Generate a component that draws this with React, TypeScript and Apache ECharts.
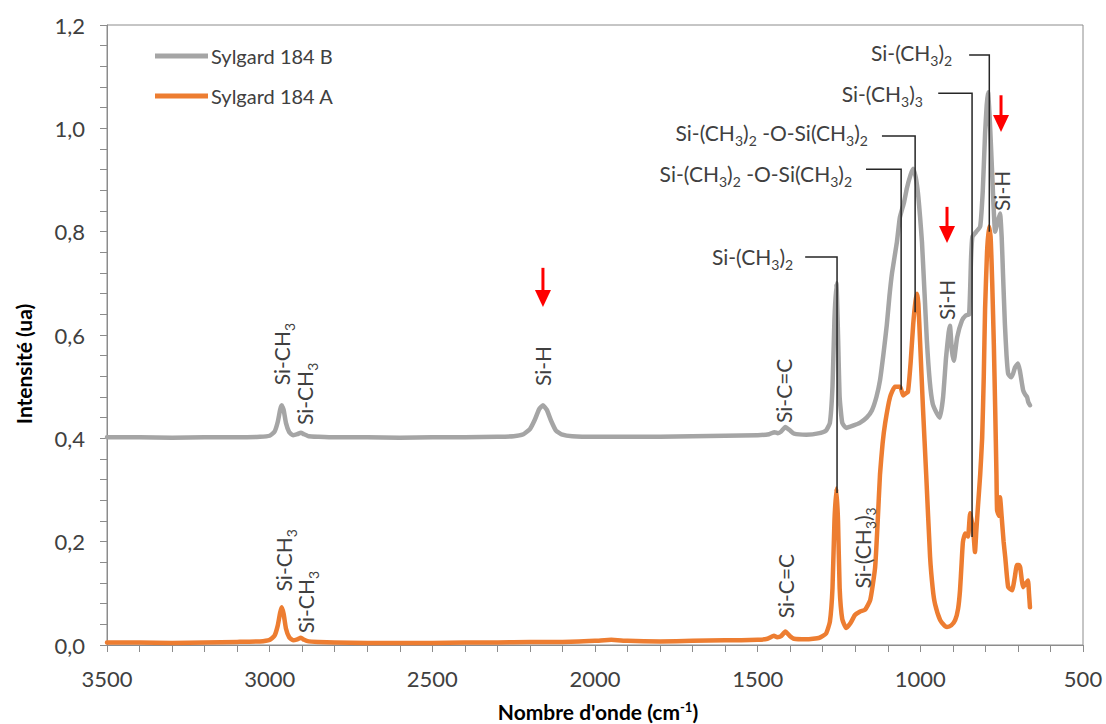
import { useEffect, useRef } from 'react';
import * as echarts from 'echarts';

// Wavenumber (cm-1), intensity (ua)
const sylgardB: [number, number][] = [
  [3500, 0.402], [3400, 0.402], [3300, 0.401], [3200, 0.402], [3100, 0.402], [3030, 0.403], [3000, 0.405],
  [2985, 0.413], [2975, 0.432], [2968, 0.455], [2963, 0.464], [2957, 0.455], [2950, 0.43], [2940, 0.412],
  [2928, 0.406], [2915, 0.408], [2904, 0.411], [2895, 0.408], [2880, 0.404], [2850, 0.403], [2800, 0.402],
  [2700, 0.402], [2600, 0.401], [2500, 0.402], [2400, 0.402], [2300, 0.403], [2250, 0.404], [2220, 0.408],
  [2200, 0.418], [2185, 0.436], [2172, 0.456], [2160, 0.464], [2148, 0.455], [2135, 0.434], [2120, 0.415],
  [2100, 0.407], [2070, 0.404], [2000, 0.403], [1900, 0.403], [1800, 0.403], [1700, 0.404], [1600, 0.405],
  [1500, 0.406], [1465, 0.408], [1448, 0.412], [1438, 0.41], [1428, 0.413], [1415, 0.422], [1402, 0.416],
  [1388, 0.409], [1350, 0.407], [1310, 0.41], [1290, 0.415], [1278, 0.43], [1270, 0.5], [1264, 0.63],
  [1258, 0.7], [1253, 0.6], [1248, 0.48], [1240, 0.43], [1228, 0.42], [1205, 0.425], [1186, 0.43],
  [1165, 0.44], [1149, 0.454], [1135, 0.48], [1124, 0.512], [1113, 0.565], [1103, 0.62], [1095, 0.675],
  [1087, 0.72], [1072, 0.78], [1063, 0.827], [1050, 0.857], [1041, 0.885], [1030, 0.91], [1022, 0.922],
  [1014, 0.905], [1007, 0.873], [1001, 0.83], [995, 0.78], [987, 0.68], [980, 0.59], [971, 0.51],
  [962, 0.467], [949, 0.448], [940, 0.44], [930, 0.48], [921, 0.556], [913, 0.605], [909, 0.618],
  [903, 0.57], [897, 0.55], [887, 0.595], [872, 0.628], [860, 0.638], [850, 0.64], [844, 0.75],
  [840, 0.79], [828, 0.8], [816, 0.81], [808, 0.88], [801, 0.99], [796, 1.045], [792, 1.07], [786, 1.01],
  [780, 0.924], [770, 0.8], [762, 0.82], [755, 0.835], [750, 0.79], [746, 0.72], [740, 0.62], [735, 0.56],
  [730, 0.525], [721, 0.518], [715, 0.525], [709, 0.537], [700, 0.545], [694, 0.531], [684, 0.493],
  [678, 0.485], [672, 0.48], [668, 0.47], [663, 0.464],
];

const sylgardA: [number, number][] = [
  [3500, 0.005], [3400, 0.005], [3300, 0.004], [3200, 0.005], [3100, 0.006], [3030, 0.007], [3000, 0.01],
  [2985, 0.018], [2975, 0.038], [2968, 0.062], [2963, 0.073], [2957, 0.06], [2950, 0.032], [2940, 0.015],
  [2928, 0.009], [2915, 0.011], [2904, 0.014], [2894, 0.01], [2880, 0.007], [2850, 0.006], [2800, 0.005],
  [2700, 0.004], [2600, 0.004], [2500, 0.004], [2400, 0.005], [2300, 0.005], [2200, 0.006], [2100, 0.006],
  [2000, 0.008], [1950, 0.01], [1900, 0.008], [1800, 0.007], [1700, 0.008], [1600, 0.009], [1500, 0.01],
  [1470, 0.012], [1450, 0.018], [1440, 0.015], [1428, 0.017], [1415, 0.026], [1402, 0.018], [1388, 0.012],
  [1350, 0.011], [1310, 0.014], [1290, 0.022], [1278, 0.045], [1270, 0.11], [1264, 0.24], [1258, 0.303],
  [1253, 0.24], [1248, 0.11], [1240, 0.05], [1228, 0.033], [1215, 0.042], [1201, 0.058], [1185, 0.065],
  [1170, 0.068], [1154, 0.087], [1139, 0.15], [1131, 0.24], [1124, 0.33], [1116, 0.39], [1108, 0.43],
  [1093, 0.48], [1078, 0.5], [1062, 0.5], [1053, 0.483], [1045, 0.487], [1038, 0.49], [1030, 0.545],
  [1022, 0.62], [1015, 0.665], [1010, 0.68], [1006, 0.66], [1001, 0.59], [992, 0.46], [982, 0.33],
  [970, 0.17], [962, 0.11], [955, 0.08], [939, 0.048], [925, 0.037], [918, 0.035], [905, 0.038],
  [893, 0.048], [884, 0.07], [878, 0.106], [873, 0.16], [869, 0.2], [862, 0.216], [856, 0.212],
  [853, 0.21], [847, 0.255], [842, 0.24], [838, 0.228], [832, 0.18], [828, 0.22], [823, 0.267],
  [816, 0.33], [810, 0.4], [805, 0.52], [801, 0.65], [795, 0.76], [789, 0.81], [784, 0.79], [779, 0.7],
  [774, 0.58], [770, 0.46], [766, 0.33], [764, 0.26], [758, 0.25], [755, 0.286], [749, 0.24], [744, 0.2],
  [739, 0.17], [730, 0.112], [718, 0.106], [710, 0.13], [703, 0.155], [697, 0.155], [693, 0.15],
  [688, 0.125], [684, 0.112], [675, 0.12], [669, 0.125], [666, 0.1], [663, 0.073],
];

const seriesNames = ['Sylgard 184 B', 'Sylgard 184 A'];
const xTicks = { min: 500, max: 3500, interval: 500 };
const yTicks = { min: 0, max: 1.2, interval: 0.2 };

// Annotations with leader lines (data coordinates)
const S2 = 'Si-(CH{s|3}){s|2}';
const S3 = 'Si-(CH{s|3}){s|3}';
const SOS = 'Si-(CH{s|3}){s|2} -O-Si(CH{s|3}){s|2}';
const leaderLabels = [
  { text: S2, labelWn: 902, labelVal: 1.146, lineVal: 1.142, fromWn: 850, toWn: 788, endVal: 0.8 },
  { text: S3, labelWn: 992, labelVal: 1.068, lineVal: 1.068, fromWn: 945, toWn: 841, endVal: 0.209 },
  { text: SOS, labelWn: 1161, labelVal: 0.991, lineVal: 0.985, fromWn: 1118, toWn: 1016, endVal: 0.644 },
  { text: SOS, labelWn: 1210, labelVal: 0.912, lineVal: 0.921, fromWn: 1167, toWn: 1059, endVal: 0.494 },
  { text: S2, labelWn: 1391, labelVal: 0.751, lineVal: 0.751, fromWn: 1354, toWn: 1256, endVal: 0.294 },
];

// Vertical band labels (centre, data coordinates)
const bandLabels = [
  { text: 'Si-CH{s|3}', wn: 2965, val: 0.563 },
  { text: 'Si-CH{s|3}', wn: 2894, val: 0.486 },
  { text: 'Si-H', wn: 2160, val: 0.54 },
  { text: 'Si-C=C', wn: 1422, val: 0.492 },
  { text: 'Si-CH{s|3}', wn: 2959, val: 0.164 },
  { text: 'Si-CH{s|3}', wn: 2891, val: 0.083 },
  { text: 'Si-C=C', wn: 1413, val: 0.114 },
  { text: S3, wn: 1178, val: 0.188 },
  { text: 'Si-H', wn: 921, val: 0.668 },
  { text: 'Si-H', wn: 752, val: 0.879 },
];

// Red arrows (data coordinates)
const arrows = [
  { wn: 2160, top: 0.73, tip: 0.654 },
  { wn: 918, top: 0.848, tip: 0.778 },
  { wn: 752, top: 1.064, tip: 0.993 },
];

const FONT = 'Lato, "Open Sans", sans-serif';
const TEXT = '#404040';
const AXIS = '#8c8c8c';

export default function App() {
  const ref = useRef<HTMLDivElement>(null);
  useEffect(() => {
    const chart = echarts.init(ref.current!, null, { renderer: 'svg' });
    chart.setOption({
      animation: false,
      backgroundColor: '#ffffff',
      textStyle: { fontFamily: FONT },
      grid: { left: 107, right: 23, top: 25, bottom: 79, show: true, borderColor: AXIS, borderWidth: 1, backgroundColor: 'transparent' },
      legend: {
        orient: 'vertical', left: 155, top: 46, padding: 0, itemWidth: 53, itemHeight: 5, itemGap: 20,
        icon: 'rect',
        textStyle: { fontSize: 20, color: TEXT, fontFamily: FONT, padding: [0, 0, 0, -2] },
        data: seriesNames,
      },
      xAxis: {
        type: 'value', inverse: true, min: xTicks.min, max: xTicks.max, interval: xTicks.interval,
        splitLine: { show: false },
        axisLine: { lineStyle: { color: AXIS, width: 1 } },
        axisTick: { show: true, inside: false, length: 7, lineStyle: { color: AXIS } },
        minorTick: { show: true, splitNumber: 5, length: 7, lineStyle: { color: AXIS } },
        axisLabel: { fontSize: 22, color: TEXT, margin: 22, fontFamily: FONT, formatter: (v: number) => String(v) },
      },
      yAxis: {
        type: 'value', min: yTicks.min, max: yTicks.max, interval: yTicks.interval,
        splitLine: { show: false },
        axisLine: { show: true, lineStyle: { color: AXIS, width: 1 } },
        axisTick: { show: true, inside: false, length: 7, lineStyle: { color: AXIS } },
        minorTick: { show: true, splitNumber: 5, length: 7, lineStyle: { color: AXIS } },
        axisLabel: {
          fontSize: 22, color: TEXT, margin: 22, fontFamily: FONT,
          formatter: (v: number) => v.toFixed(1).replace('.', ','),
        },
      },
      series: [
        {
          name: seriesNames[0], type: 'line', data: sylgardB, symbol: 'none', showSymbol: false,
          lineStyle: { color: '#A5A5A5', width: 4.5, join: 'round', cap: 'round' }, itemStyle: { color: '#A5A5A5' },
          smooth: 0.15, z: 2,
        },
        {
          name: seriesNames[1], type: 'line', data: sylgardA, symbol: 'none', showSymbol: false,
          lineStyle: { color: '#ED7D31', width: 4.5, join: 'round', cap: 'round' }, itemStyle: { color: '#ED7D31' },
          smooth: 0.15, z: 3,
        },
      ],
    });

    const px = (wn: number, v: number) => chart.convertToPixel({ gridIndex: 0 }, [wn, v]) as number[];
    const rich = {
      s: { fontSize: 14, fill: TEXT, fontFamily: FONT, verticalAlign: 'bottom' },
    };
    const g: any[] = [];

    leaderLabels.forEach((a) => {
      const p1 = px(a.fromWn, a.lineVal);
      const p2 = px(a.toWn, a.lineVal);
      const p3 = px(a.toWn, a.endVal);
      g.push({
        type: 'polyline', z: 100,
        shape: { points: [p1, p2, p3] },
        style: { stroke: '#262626', lineWidth: 1.5, fill: null },
      });
      const t = px(a.labelWn, a.labelVal);
      g.push({
        type: 'text', z: 100, x: t[0], y: t[1],
        style: {
          text: a.text, fill: TEXT, fontSize: 21, fontFamily: FONT, lineHeight: 30,
          align: 'right', verticalAlign: 'middle', rich,
        },
      });
    });

    bandLabels.forEach((b) => {
      const c = px(b.wn, b.val);
      g.push({
        type: 'text', z: 100, x: c[0], y: c[1], rotation: Math.PI / 2,
        style: {
          text: b.text, fill: TEXT, fontSize: 21, fontFamily: FONT, lineHeight: 30,
          align: 'center', verticalAlign: 'middle', rich,
        },
      });
    });

    arrows.forEach((a) => {
      const top = px(a.wn, a.top);
      const tip = px(a.wn, a.tip);
      g.push({
        type: 'line', z: 100,
        shape: { x1: top[0], y1: top[1], x2: tip[0], y2: tip[1] - 14 },
        style: { stroke: '#FF0000', lineWidth: 3 },
      });
      g.push({
        type: 'polygon', z: 100,
        shape: { points: [[tip[0] - 8, tip[1] - 17], [tip[0] + 8, tip[1] - 17], [tip[0], tip[1]]] },
        style: { fill: '#FF0000' },
      });
    });

    g.push({
      type: 'text', z: 100, x: 598, y: 711,
      style: {
        text: "Nombre d'onde (cm{sup|-1})", fill: '#000000', fontSize: 21, fontWeight: 'bold', fontFamily: FONT,
        align: 'center', verticalAlign: 'middle', lineHeight: 22,
        rich: { sup: { fontSize: 13, fontWeight: 'bold', fill: '#000000', fontFamily: FONT, verticalAlign: 'top' } },
      },
    });
    g.push({
      type: 'text', z: 100, x: 23, y: 364, rotation: Math.PI / 2,
      style: {
        text: 'Intensité (ua)', fill: '#000000', fontSize: 21, fontWeight: 'bold', fontFamily: FONT,
        align: 'center', verticalAlign: 'middle',
      },
    });

    chart.setOption({ graphic: g });
    return () => chart.dispose();
  }, []);
  return (
    <div
      ref={ref}
      style={{ position: 'fixed', left: 0, top: 0, width: 1106, height: 724, background: '#fff' }}
    />
  );
}
